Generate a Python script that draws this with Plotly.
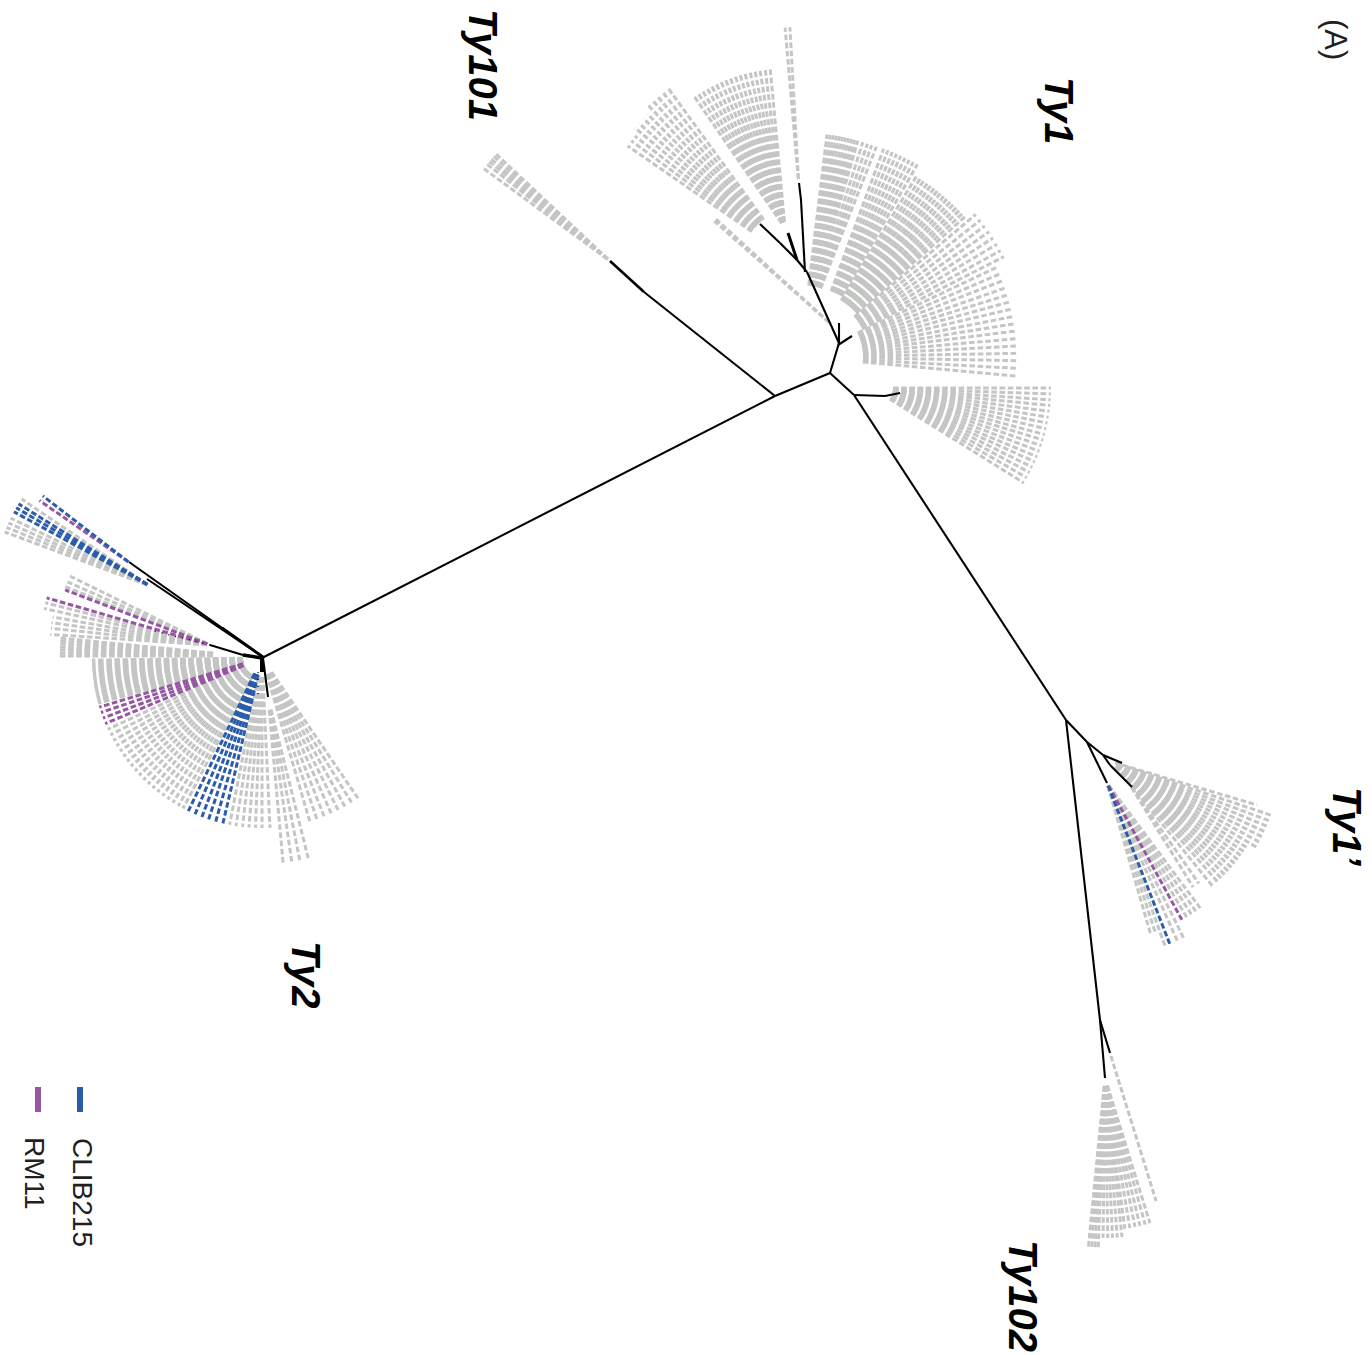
import math
import plotly.graph_objects as go

GRAY = "#c4c6c4"
BLUE = "#2a5caa"
PURPLE = "#9656a2"

# ---- tip angles per clade (degrees, clockwise from +x on the page) ----
ty1_top = [-95.0, -93.2]
ty1_upper = [-124.6, -122.8, -121.0, -119.1, -117.3, -115.5, -113.6, -111.8, -110.0, -108.1, -106.3, -104.5, -102.6, -100.8, -99.0, -97.1, -95.3]
ty1_left_a = [-145.4, -143.6, -141.9]
ty1_left_b = [-140.1, -138.4, -136.6, -134.9]
ty1_left_c = [-133.1, -131.3, -129.6, -127.8, -126.0]
ty1_pair = [-138.6, -137.6]
ty1_a = [-83.1, -82.2, -81.3, -80.4, -79.5, -78.6, -77.7, -76.8, -75.9, -75.0, -74.1, -72.6, -71.2, -69.9, -68.5]
ty1_b = [-69.8, -68.6, -67.4, -66.2, -65.0, -63.8, -62.6, -61.4, -60.2]
ty1_c = [-58.8, -57.6, -56.5, -55.3, -54.2, -53.0, -51.9, -50.8, -49.6, -48.5, -47.3, -46.2, -45.0, -43.9, -42.7, -41.6]
ty1_d = [-40.2, -38.3, -36.4, -34.5, -32.6, -30.7, -28.8, -27.0]
ty1_e = [-25.3, -23.3, -21.3, -19.2, -17.2, -15.2, -13.2, -11.1, -9.1, -7.1, -5.0, -3.0, -1.0, 1.0, 3.1, 5.2]
ty1_low = [0.0, 1.9, 3.8, 5.6, 7.5, 9.4, 11.3, 13.2, 15.1, 16.9, 18.8, 20.7, 22.6, 24.4, 26.3, 28.2, 30.1, 32.0]
ty101 = [-143.8, -141.8, -140.5, -139.3, -138.0, -136.8]

ty2_main = [179.3, 178.4, 177.5, 176.7, 175.8, 174.9, 174.1, 173.2, 172.3, 171.4, 170.6, 169.7, 168.8, 168.0, 167.1, 166.2, 165.4, 164.6, 155.2, 153.1, 151.0, 148.9, 146.8, 144.7, 142.6, 140.5, 138.4, 136.3, 134.2, 132.1, 130.0, 127.9, 125.8, 123.7, 121.6, 119.5, 117.7, 101.0, 98.8, 96.6, 94.4, 92.2, 90.0, 87.3]
ty2_main_rm11 = [163.2, 161.3, 159.3, 157.3]
ty2_main_clib = [115.7, 113.2, 110.7, 108.3, 105.8, 103.3]
ty2_right = [55.6, 58.2, 60.8, 63.4, 66.0, 68.6, 71.2, 73.7]
ty2_low = [76.0, 79.0, 81.8, 84.8]
ty2_band = [185.6, 184.7, 183.8, 182.8, 181.9, 180.9, 180.0]
ty2_g1 = [206.2, 203.9, 202.0]
ty2_g1_rm11 = [200.8]
ty2_g2_rm11 = [196.1]
ty2_g2 = [194.4, 192.4]
ty2_g3 = [190.1, 188.0, 186.0, 183.8]
ty2_pair_clib = [217.6]
ty2_pair_rm11 = [214.6]
ty2_top = [214.1, 206.0, 204.0, 202.2, 200.4]
ty2_top_clib = [212.0, 210.3, 208.6]

ty1p_fan_a = [16.5]
ty1p_fan_b = [18.5, 20.5, 22.5, 24.5, 26.5, 28.5, 30.5]
ty1p_fan_c = [32.4, 34.2, 36.0, 37.8, 39.6, 41.4, 43.2, 45.0, 46.8, 48.6, 51.0]
ty1p_pair = [55.0, 58.3]
ty1p_low_a = [53.3, 55.3, 57.3, 59.3]
ty1p_low_rm11 = [61.3]
ty1p_low_b = [63.7, 66.0, 70.4]
ty1p_low_clib = [68.7]
ty1p_low_c = [72.1, 73.9]

ty102_single = [72.7]
ty102_a = [95.6, 94.5, 93.4, 92.3]
ty102_b = [90.7, 89.0, 87.3, 85.6, 83.9]
ty102_c = [82.5, 80.6, 78.6, 76.7, 74.7, 72.8]

# clade, apex x, apex y, first radius, last radius, colour group
fan_names = [ty1_top, ty1_upper, ty1_left_a, ty1_left_b, ty1_left_c, ty1_pair, ty1_a, ty1_b, ty1_c, ty1_d, ty1_e, ty1_low, ty101,
             ty2_main, ty2_right, ty2_low, ty2_band, ty2_g1, ty2_g2, ty2_g3, ty2_top,
             ty1p_fan_a, ty1p_fan_b, ty1p_fan_c, ty1p_pair, ty1p_low_a, ty1p_low_b, ty1p_low_c,
             ty102_single, ty102_a, ty102_b, ty102_c,
             ty2_main_rm11, ty2_g1_rm11, ty2_g2_rm11, ty2_pair_rm11, ty1p_low_rm11,
             ty2_main_clib, ty2_pair_clib, ty2_top_clib, ty1p_low_clib]
fan_apex_x = [798.5, 785, 793, 793, 793, 832, 803, 807, 807, 807, 807, 872, 610,
              262, 262, 268, 243, 210, 210, 210, 150,
              1112, 1112, 1112, 1130, 1107, 1107, 1107,
              1110, 1105, 1105, 1105,
              262, 210, 210, 130, 1107,
              262, 130, 150, 1107]
fan_apex_y = [181, 228, 260, 260, 260, 325, 333, 357, 357, 357, 357, 388, 261,
              658, 658, 697, 656, 645, 645, 645, 586,
              762, 762, 762, 785, 783, 783, 783,
              1053, 1078, 1078, 1078,
              658, 645, 645, 563, 783,
              658, 563, 586, 783]
fan_r0 = [2, 6, 50, 50, 50, 4, 48, 70, 66, 62, 56, 21, 3,
          19, 17, 13, 30, 3, 3, 3, 3,
          3, 6, 6, 3, 3, 3, 3,
          3, 8, 8, 8,
          20, 3, 3, 2, 3,
          17, 2, 3, 3]
fan_r1 = [154, 160, 201, 206, 213, 157, 200, 222, 211, 221, 211, 179, 158,
          170, 170, 168, 185, 156, 170, 160, 155,
          151, 170, 160, 120, 156, 173, 157,
          155, 172, 160, 152,
          170, 155, 170, 110, 156,
          170, 110, 155, 173]
fan_group = ["o"] * 32 + ["r"] * 5 + ["c"] * 4

# internal branches: from x, from y, to x, to y
branch_x0 = [262, 775, 830, 830, 839, 807, 797, 780, 805, 801, 854, 854, 885, 1066, 1100, 1100, 1066, 1087, 1087, 1103, 1103, 1110, 775, 838, 839, 263, 263, 263, 243]
branch_y0 = [658, 396, 373, 373, 343, 272, 260, 243, 272, 200, 395, 395, 396, 720, 1020, 1020, 720, 742, 742, 755, 755, 765, 396, 345, 343, 657, 657, 658, 655]
branch_x1 = [775, 830, 854, 839, 807, 797, 780, 760, 801, 799, 1066, 885, 900, 1100, 1105, 1110, 1087, 1107, 1103, 1122, 1110, 1132, 644, 852, 839, 129, 147, 268, 210]
branch_y1 = [396, 373, 395, 343, 272, 260, 243, 224, 200, 183, 720, 396, 393, 1020, 1078, 1053, 742, 783, 755, 763, 765, 787, 292, 336, 323, 562, 579, 697, 645]
thick_x0 = [262, 262, 797, 644, 263]
thick_y0 = [658, 658, 260, 292, 657]
thick_x1 = [243, 262, 788, 610, 222]
thick_y1 = [655, 672, 233, 261, 628]
thick_w = [3.5, 4, 3, 2.6, 2.8]
speck_x0 = [210, 258]
speck_y0 = [645, 672]
speck_x1 = [150, 258]
speck_y1 = [630, 698]

labels = ["Ty101", "Ty1", "Ty1’", "Ty2", "Ty102"]
label_x = [483, 1059, 1347, 306, 1023]
label_y = [65, 110, 826, 974, 1296]
panel_tag = "(A)"
legend_names = ["CLIB215", "RM11"]
legend_x = [83, 35]
legend_y = [1192, 1173]
legend_key_x = [80, 38]
legend_key_y0 = [1087, 1087]
legend_key_y1 = [1112, 1112]
legend_colors = [BLUE, PURPLE]


def rays(groups):
    xs, ys = [], []
    for i, ang in enumerate(fan_names):
        if fan_group[i] != groups:
            continue
        for a in ang:
            t = math.radians(a)
            xs += [fan_apex_x[i] + fan_r0[i] * math.cos(t), fan_apex_x[i] + fan_r1[i] * math.cos(t), None]
            ys += [fan_apex_y[i] + fan_r0[i] * math.sin(t), fan_apex_y[i] + fan_r1[i] * math.sin(t), None]
    return xs, ys


def segs(x0, y0, x1, y1):
    xs, ys = [], []
    for a, b, c, d in zip(x0, y0, x1, y1):
        xs += [a, c, None]
        ys += [b, d, None]
    return xs, ys


fig = go.Figure()
DASH = "5.6px,2.6px"
for grp, col in [("o", GRAY), ("r", PURPLE), ("c", BLUE)]:
    x, y = rays(grp)
    fig.add_trace(go.Scatter(x=x, y=y, mode="lines", showlegend=False, hoverinfo="skip",
                             line=dict(color=col, width=3, dash=DASH)))

x, y = segs(branch_x0, branch_y0, branch_x1, branch_y1)
fig.add_trace(go.Scatter(x=x, y=y, mode="lines", showlegend=False, hoverinfo="skip",
                         line=dict(color="black", width=2.1)))
for a, b, c, d, w in zip(thick_x0, thick_y0, thick_x1, thick_y1, thick_w):
    fig.add_trace(go.Scatter(x=[a, c], y=[b, d], mode="lines", showlegend=False, hoverinfo="skip",
                             line=dict(color="black", width=w)))
x, y = segs(speck_x0, speck_y0, speck_x1, speck_y1)
fig.add_trace(go.Scatter(x=x, y=y, mode="lines", showlegend=False, hoverinfo="skip",
                         line=dict(color="black", width=1.3, dash="1px,6px")))
for kx, y0, y1, c in zip(legend_key_x, legend_key_y0, legend_key_y1, legend_colors):
    fig.add_trace(go.Scatter(x=[kx, kx], y=[y0, y1], mode="lines", showlegend=False, hoverinfo="skip",
                             line=dict(color=c, width=6)))

FONT = "Arial, Liberation Sans, sans-serif"
for t, lx, ly in zip(labels, label_x, label_y):
    fig.add_annotation(x=lx, y=ly, text=f"<b><i>{t}</i></b>", showarrow=False, textangle=90,
                       font=dict(family=FONT, size=40, color="black"))
fig.add_annotation(x=1336, y=39, text=panel_tag, showarrow=False, textangle=90,
                   font=dict(family=FONT, size=31, color="#231f20"))
for name, lx, ly in zip(legend_names, legend_x, legend_y):
    fig.add_annotation(x=lx, y=ly, text=name, showarrow=False, textangle=90,
                       font=dict(family=FONT, size=28, color="#231f20"))

fig.update_xaxes(range=[0, 1372], visible=False, fixedrange=True)
fig.update_yaxes(range=[1355, 0], visible=False, fixedrange=True)
fig.update_layout(width=1372, height=1355, margin=dict(l=0, r=0, t=0, b=0),
                  plot_bgcolor="white", paper_bgcolor="white", showlegend=False)
fig.write_html("out.html", config={"displayModeBar": False},
               post_script="document.body.style.margin='0';")
